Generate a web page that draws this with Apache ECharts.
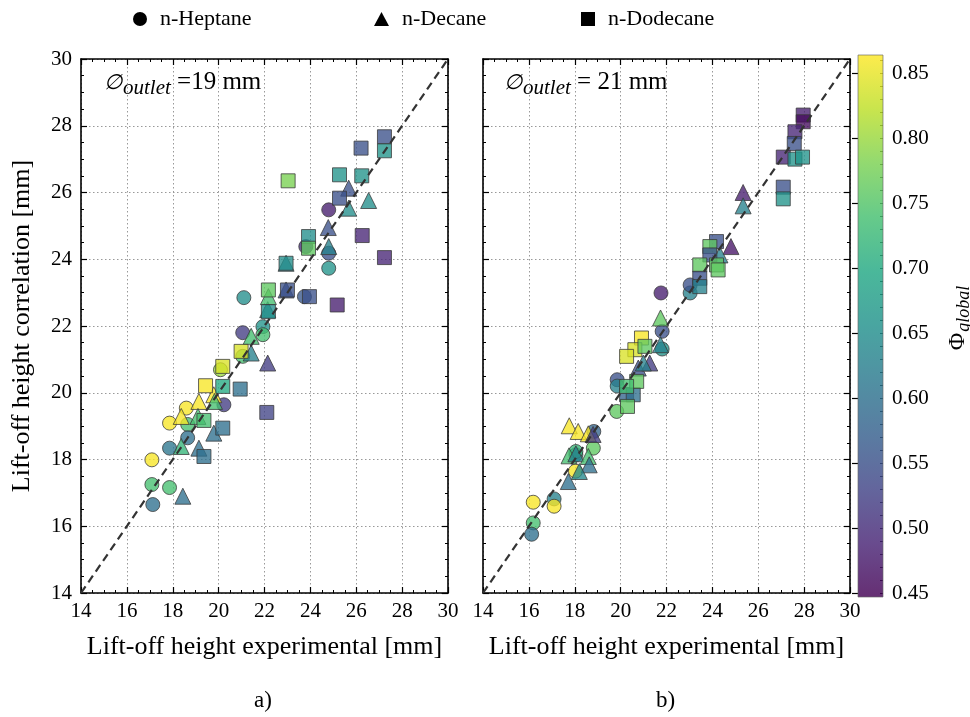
<!DOCTYPE html>
<html>
<head>
<meta charset="utf-8">
<script src="https://cdn.jsdelivr.net/npm/echarts@6/dist/echarts.min.js"></script>
<style>
html,body{margin:0;padding:0;background:#fff;}
#chart{width:970px;height:717px;}
</style>
</head>
<body>
<div id="chart"></div>
<script>
// ---------------- DATA ----------------
// [experimental, correlation, phi_global]
const leftHeptane = [
  [17.13,16.65,0.60],[17.09,17.25,0.74],[17.09,17.99,0.86],[17.86,17.16,0.74],
  [17.86,18.34,0.61],[17.86,19.09,0.86],[18.59,19.54,0.86],[18.65,19.05,0.74],
  [18.65,18.65,0.60],[20.23,19.64,0.52],[20.08,20.69,0.80],[21.05,21.09,0.74],
  [21.10,22.85,0.65],[21.05,21.80,0.52],[21.93,21.98,0.66],[21.93,21.74,0.74],
  [23.74,22.88,0.56],[23.80,24.38,0.50],[24.80,25.48,0.48],[24.80,23.73,0.66],
  [24.80,24.18,0.55]
];
const leftDecane = [
  [18.44,16.90,0.60],[18.37,18.39,0.72],[19.14,18.34,0.60],[19.79,18.79,0.60],
  [18.37,19.29,0.86],[19.14,19.74,0.86],[19.79,19.94,0.86],[19.10,19.29,0.74],
  [19.82,19.74,0.74],[21.42,21.19,0.63],[22.14,20.89,0.52],[21.42,21.69,0.74],
  [22.14,22.49,0.66],[22.17,22.88,0.74],[22.94,23.08,0.55],[22.94,23.88,0.63],
  [24.78,24.95,0.55],[24.80,24.38,0.63],[25.67,26.13,0.55],[25.67,25.53,0.65],
  [26.54,25.76,0.65]
];
const leftDodecane = [
  [19.43,20.21,0.86],[19.36,19.17,0.74],[19.36,18.09,0.60],[20.18,20.79,0.84],
  [20.18,20.19,0.70],[20.18,18.94,0.60],[20.94,20.11,0.60],[22.10,19.41,0.53],
  [20.98,21.24,0.84],[22.17,23.08,0.76],[22.17,22.43,0.65],[23.00,23.08,0.55],
  [22.94,23.88,0.65],[23.92,24.68,0.65],[23.92,24.33,0.76],[23.96,22.88,0.55],
  [23.03,26.35,0.78],[25.27,26.53,0.66],[26.21,27.33,0.55],[27.23,27.67,0.55],
  [27.23,27.25,0.66],[26.24,26.50,0.66],[25.27,25.83,0.55],[26.26,24.71,0.49],
  [27.23,24.05,0.49],[25.17,22.63,0.48]
];
const rightHeptane = [
  [16.19,16.72,0.86],[16.19,16.10,0.74],[16.12,15.76,0.60],[17.10,16.82,0.63],
  [17.10,16.60,0.86],[18.03,17.65,0.86],[18.05,18.14,0.65],[18.05,18.24,0.72],
  [18.81,18.34,0.76],[18.83,18.84,0.58],[19.83,19.44,0.76],[19.85,20.39,0.55],
  [19.85,20.20,0.63],[21.76,22.99,0.48],[21.81,21.84,0.55],[21.81,21.31,0.66],
  [23.03,22.99,0.63],[23.03,23.23,0.55]
];
const rightDecane = [
  [17.76,19.01,0.86],[18.15,18.84,0.86],[18.59,18.77,0.86],[18.80,18.75,0.52],
  [17.75,18.11,0.74],[18.05,18.17,0.63],[18.59,18.09,0.74],[18.63,17.84,0.60],
  [18.20,17.64,0.64],[17.72,17.34,0.60],[21.74,22.24,0.76],[21.74,21.44,0.63],
  [20.77,20.74,0.55],[21.27,20.89,0.52],[20.99,20.89,0.63],[25.34,26.00,0.48],
  [25.34,25.60,0.63],[24.81,24.38,0.47],[24.33,24.13,0.63]
];
const rightDodecane = [
  [27.96,28.32,0.48],[27.96,28.12,0.46],[27.60,27.82,0.49],[27.57,27.47,0.55],
  [27.09,27.06,0.49],[27.60,27.00,0.66],[27.93,27.06,0.66],[27.09,26.16,0.55],
  [27.09,25.81,0.66],[24.18,24.53,0.55],[23.89,24.38,0.76],[23.89,24.13,0.55],
  [23.45,23.83,0.76],[24.18,23.83,0.76],[24.25,23.68,0.76],[23.45,23.43,0.55],
  [23.45,23.18,0.63],[20.91,21.64,0.86],[20.62,21.29,0.84],[20.26,21.09,0.84],
  [21.06,21.39,0.76],[20.26,19.94,0.58],[20.55,19.94,0.60],[20.70,20.34,0.76],
  [20.26,20.19,0.74],[20.30,19.59,0.76]
];
const diagonal = [[14,14],[30,30]];
const axisMin = 14, axisMax = 30, axisStep = 2;
const cMin = 0.447, cMax = 0.864;
const cbarTicks = [0.45,0.50,0.55,0.60,0.65,0.70,0.75,0.80,0.85];
const fuels = ['n-Heptane','n-Decane','n-Dodecane'];
const panelTitles = ['19 mm','21 mm'];
const xName = 'Lift-off height experimental [mm]';
const yName = 'Lift-off height correlation [mm]';
// --------------------------------------

const viridis = ['#440154','#482475','#414487','#355f8d','#2a788e','#21918c','#22a884','#44bf70','#7ad151','#bddf26','#fde725'];
const FONT = 'Liberation Serif';
const TICK_FS = 21, NAME_FS = 26;
const cbarMinor = [];
for (let v = 45; v <= 86; v++) cbarMinor.push(v / 100);

const chart = echarts.init(document.getElementById('chart'), null, {renderer:'canvas'});

function mainX(gi) {
  return {
    type:'value', gridIndex:gi, min:axisMin, max:axisMax, interval:axisStep,
    position:'bottom',
    name: xName, nameLocation:'middle', nameGap:41,
    nameTextStyle:{fontFamily:FONT, fontSize:NAME_FS, color:'#000'},
    axisLine:{show:true, onZero:false, lineStyle:{color:'#000', width:1.6}},
    axisTick:{show:true, inside:true, length:6, lineStyle:{color:'#000', width:1.2}},
    minorTick:{show:true, splitNumber:4, length:3, lineStyle:{color:'#000', width:1}},
    axisLabel:{show:true, fontFamily:FONT, fontSize:TICK_FS, color:'#000', margin:8},
    splitLine:{show:true, lineStyle:{color:'#999', type:[1.5,2.5], width:1}}
  };
}
function mirrorX(gi) {
  return {
    type:'value', gridIndex:gi, min:axisMin, max:axisMax, interval:axisStep,
    position:'top',
    axisLine:{show:true, onZero:false, lineStyle:{color:'#000', width:1.6}},
    axisTick:{show:true, inside:true, length:6, lineStyle:{color:'#000', width:1.2}},
    minorTick:{show:true, splitNumber:4, length:3, lineStyle:{color:'#000', width:1}},
    axisLabel:{show:false}, splitLine:{show:false}
  };
}
function mainY(gi, showLabels) {
  return {
    type:'value', gridIndex:gi, min:axisMin, max:axisMax, interval:axisStep,
    position:'left',
    name: showLabels ? yName : '', nameLocation:'middle', nameGap:46,
    nameTextStyle:{fontFamily:FONT, fontSize:NAME_FS, color:'#000'},
    axisLine:{show:true, onZero:false, lineStyle:{color:'#000', width:1.6}},
    axisTick:{show:true, inside:true, length:6, lineStyle:{color:'#000', width:1.2}},
    minorTick:{show:true, splitNumber:4, length:3, lineStyle:{color:'#000', width:1}},
    axisLabel:{show:showLabels, fontFamily:FONT, fontSize:TICK_FS, color:'#000', margin:9},
    splitLine:{show:true, lineStyle:{color:'#999', type:[1.5,2.5], width:1}}
  };
}
function mirrorY(gi) {
  return {
    type:'value', gridIndex:gi, min:axisMin, max:axisMax, interval:axisStep,
    position:'right',
    axisLine:{show:true, onZero:false, lineStyle:{color:'#000', width:1.6}},
    axisTick:{show:true, inside:true, length:6, lineStyle:{color:'#000', width:1.2}},
    minorTick:{show:true, splitNumber:4, length:3, lineStyle:{color:'#000', width:1}},
    axisLabel:{show:false}, splitLine:{show:false}
  };
}

const symbols = ['circle','triangle','rect'];
const sizes = [14, 16, 14];
const panelData = [[leftHeptane,leftDecane,leftDodecane],[rightHeptane,rightDecane,rightDodecane]];

const series = [];
panelData.forEach((sets, p) => {
  sets.forEach((d, f) => {
    series.push({
      type:'scatter', name:fuels[f], xAxisIndex:p*2, yAxisIndex:p*2,
      data:d, symbol:symbols[f], symbolSize:sizes[f],
      itemStyle:{opacity:0.78, borderColor:'#3a3a3a', borderWidth:1},
      emphasis:{disabled:true}, z:2
    });
  });
});
const scatterCount = series.length;
[0,1].forEach(p => {
  series.push({
    type:'line', xAxisIndex:p*2, yAxisIndex:p*2, data:diagonal,
    symbol:'none', silent:true, z:5,
    lineStyle:{color:'#333', width:2.2, type:[8,5]}
  });
});
// colour bar
const stops = viridis.map((c,i) => ({offset:i/(viridis.length-1), color:c}));
series.push({
  type:'custom', xAxisIndex:4, yAxisIndex:4, silent:true,
  data:[[0,cMin]],
  renderItem:(params, api) => {
    const p0 = api.coord([0, cMax]);
    const p1 = api.coord([1, cMin]);
    return {
      type:'rect',
      shape:{x:p0[0], y:p0[1], width:p1[0]-p0[0], height:p1[1]-p0[1]},
      style:{fill:new echarts.graphic.LinearGradient(0,1,0,0,stops), opacity:0.82, stroke:'#666', lineWidth:0.8}
    };
  }
});

const richAnn = (val) => ({
  type:'text',
  style:{
    text:'{a|∅}{b|outlet}{c|' + val + '}',
    rich:{
      a:{fontFamily:FONT, fontSize:21, fill:'#000', fontStyle:'italic', padding:[2,0,0,0]},
      b:{fontFamily:FONT, fontSize:21, fill:'#000', fontStyle:'italic', padding:[12,0,0,1]},
      c:{fontFamily:FONT, fontSize:25, fill:'#000'}
    }
  }
});

const option = {
  animation:false,
  backgroundColor:'#fff',
  grid:[
    {left:81, top:59, width:367, height:534},
    {left:483, top:59, width:367, height:534},
    {left:858, top:55, width:25, height:542}
  ],
  xAxis:[
    mainX(0), mirrorX(0), mainX(1), mirrorX(1),
    {type:'value', gridIndex:2, min:0, max:1, show:false}
  ],
  yAxis:[
    mainY(0,true), mirrorY(0), mainY(1,false), mirrorY(1),
    {type:'value', gridIndex:2, min:cMin, max:cMax, position:'right',
     axisLine:{show:false},
     axisTick:{show:true, inside:true, length:6, customValues:cbarTicks, lineStyle:{color:'#000', width:1.2}},
     axisLabel:{show:true, customValues:cbarTicks, fontFamily:FONT, fontSize:TICK_FS, color:'#000', margin:9,
                formatter:(v)=>Number(v).toFixed(2)},
     splitLine:{show:false}},
    {type:'value', gridIndex:2, min:cMin, max:cMax, position:'right',
     axisLine:{show:false},
     axisTick:{show:true, inside:true, length:3, customValues:cbarMinor, lineStyle:{color:'#000', width:1}},
     axisLabel:{show:false}, splitLine:{show:false}}
  ],
  visualMap:{
    type:'continuous', show:false, min:cMin, max:cMax, dimension:2,
    seriesIndex:Array.from({length:scatterCount},(_,i)=>i),
    inRange:{color:viridis}
  },
  legend: fuels.map((name, i) => ({
    data:[{name:name, icon:symbols[i]}],
    left:[133, 374, 581][i], top:8, padding:0,
    itemWidth:i===1?15:14, itemHeight:14, itemGap:0,
    itemStyle:{color:'#000', borderWidth:0, opacity:1},
    textStyle:{fontFamily:FONT, fontSize:22, color:'#000', padding:[0,0,0,8]},
    selectedMode:false
  })),
  series:series,
  graphic:[
    Object.assign(richAnn(' =' + panelTitles[0]), {left:104, top:70}),
    Object.assign(richAnn(' = ' + panelTitles[1]), {left:504, top:70}),
    {type:'text', left:254, top:689, style:{text:'a)', fontFamily:FONT, fontSize:23, fill:'#000'}},
    {type:'text', left:656, top:689, style:{text:'b)', fontFamily:FONT, fontSize:23, fill:'#000'}},
    {type:'text', x:958, y:318, rotation:Math.PI/2,
     style:{text:'{a|Φ}{b|global}', align:'center', verticalAlign:'middle',
       rich:{a:{fontFamily:FONT, fontSize:24, fill:'#000'},
             b:{fontFamily:FONT, fontSize:18, fontStyle:'italic', fill:'#000', padding:[12,0,0,1]}}}}
  ]
};
chart.setOption(option);
</script>
</body>
</html>
